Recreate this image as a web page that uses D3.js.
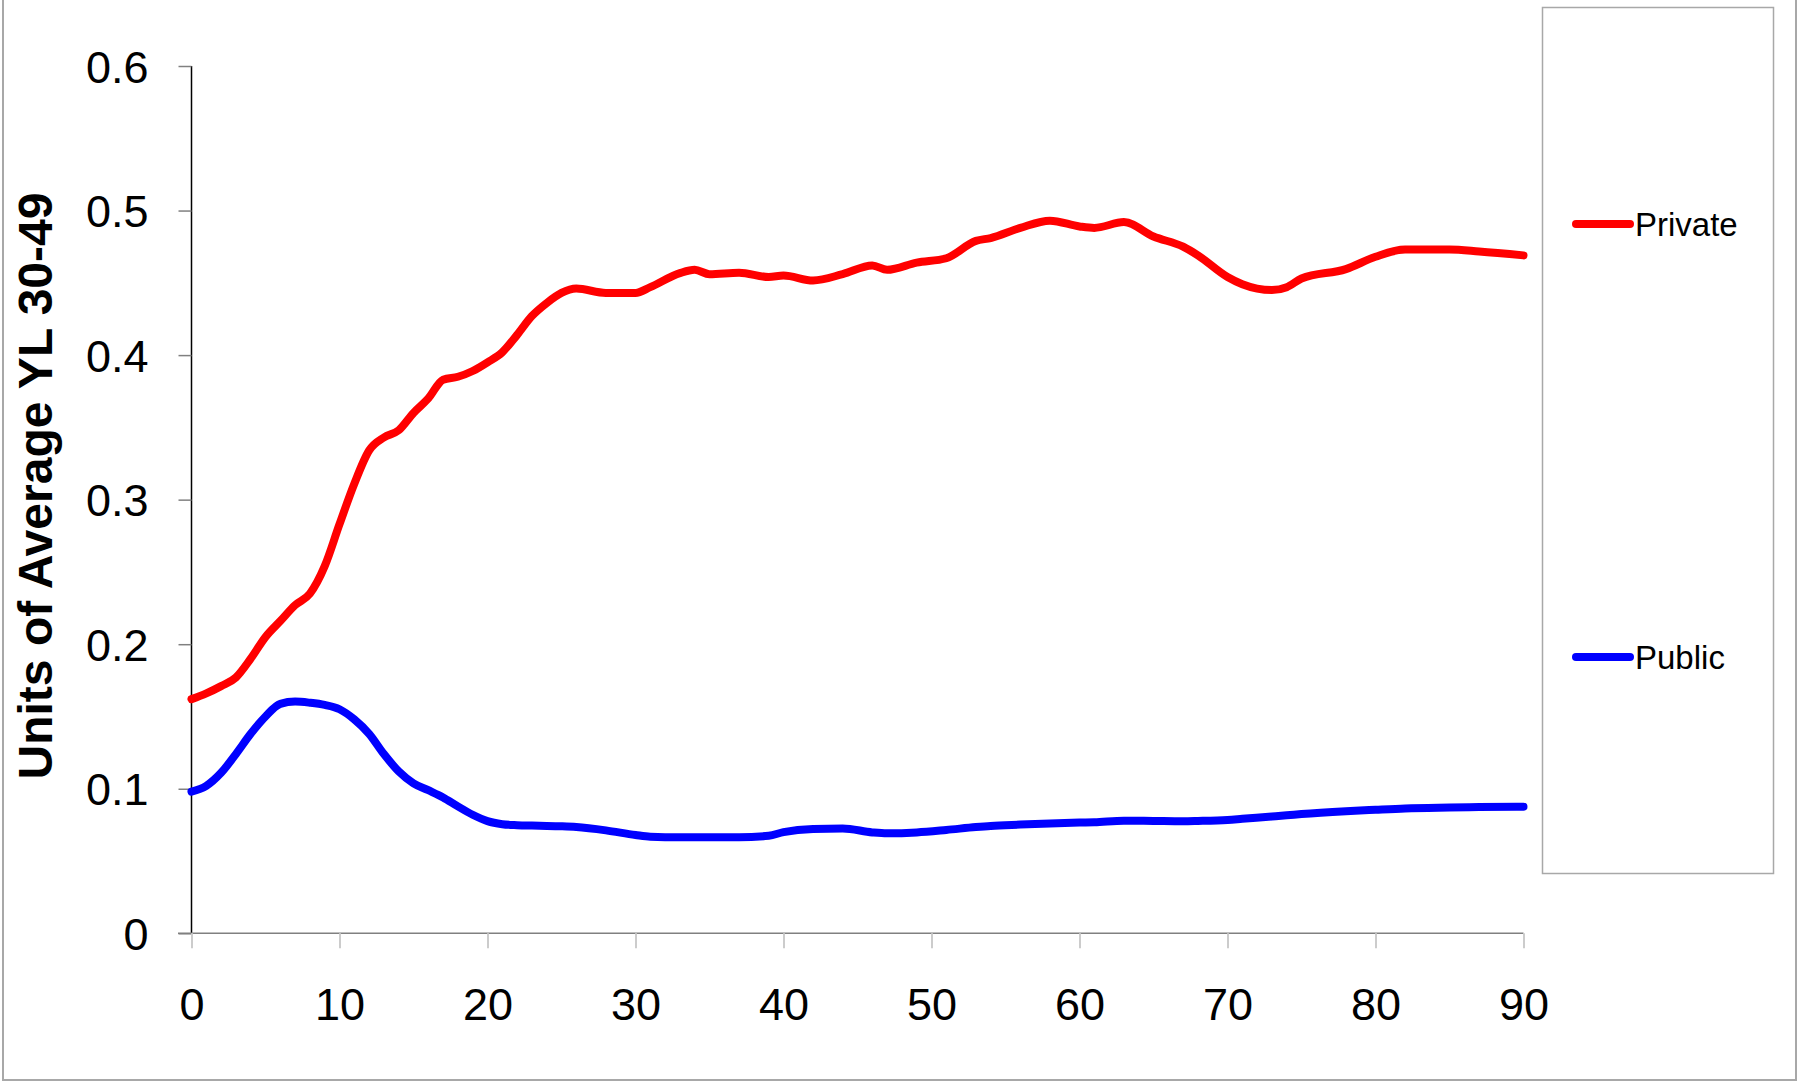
<!DOCTYPE html>
<html>
<head>
<meta charset="utf-8">
<script src="https://cdn.jsdelivr.net/npm/d3@7"></script>
<style>
  html, body { margin: 0; padding: 0; background: #fff; }
  svg { display: block; font-family: "Liberation Sans", Arial, sans-serif; }
</style>
</head>
<body>
<svg id="chart" width="1797" height="1084"></svg>
<script>
const ages = [0,1,2,3,4,5,6,7,8,9,10,11,12,13,14,15,16,17,18,19,20,21,22,23,24,25,26,28,30,31,33,34,35,37,39,40,42,44,46,47,49,51,53,54,56,58,60,61,63,65,67,68,70,71,73,74,75,78,80,82,85,87,90];

const privateValues = [0.162,0.166,0.171,0.177,0.190,0.205,0.216,0.227,0.235,0.254,0.283,0.311,0.334,0.343,0.348,0.360,0.370,0.383,0.385,0.389,0.395,0.402,0.414,0.427,0.436,0.443,0.446,0.443,0.443,0.447,0.4567,0.459,0.456,0.457,0.454,0.455,0.4516,0.456,0.462,0.459,0.464,0.467,0.479,0.481,0.488,0.493,0.489,0.488,0.492,0.482,0.475,0.469,0.454,0.449,0.445,0.447,0.453,0.4595,0.468,0.473,0.473,0.4717,0.469];

const publicValues = [0.098,0.102,0.111,0.124,0.138,0.150,0.1587,0.1603,0.1595,0.158,0.155,0.148,0.138,0.124,0.112,0.1038,0.099,0.094,0.0878,0.082,0.0776,0.0755,0.0748,0.0745,0.0743,0.0740,0.0735,0.0712,0.0680,0.0668,0.0664,0.0665,0.0665,0.0664,0.0675,0.0700,0.0722,0.0725,0.0698,0.0692,0.0698,0.0715,0.0735,0.0743,0.0752,0.0760,0.0766,0.0768,0.0779,0.0777,0.0775,0.0777,0.0784,0.0792,0.0808,0.0816,0.0825,0.0845,0.0855,0.0864,0.0870,0.0873,0.0876];

const seriesNames = ["Private", "Public"];
const seriesColors = ["#ff0000", "#0000ff"];
const xTicks = [0,10,20,30,40,50,60,70,80,90];
const yTicks = [0,0.1,0.2,0.3,0.4,0.5,0.6];
const yTitle = "Units of Average YL 30-49";

const svg = d3.select("#chart");
const W = 1797, H = 1084;

// outer chart border
svg.append("rect").attr("x", 3).attr("y", -2).attr("width", 1793).attr("height", 1082)
  .attr("fill", "none").attr("stroke", "#a8a8a8").attr("stroke-width", 2);

const x = d3.scaleLinear().domain([0, 90]).range([191.5, 1523.5]);
const y = d3.scaleLinear().domain([0, 0.6]).range([933.3, 66]);

// y axis
const yAxis = svg.append("g").attr("transform", "translate(191.5,0)")
  .call(d3.axisLeft(y).tickValues(yTicks).tickSize(13).tickFormat(d3.format("")));
yAxis.select(".domain").attr("stroke", "#000").attr("stroke-width", 1.5).attr("d", `M0,${y(0.6)}V${y(0)}`);
yAxis.selectAll(".tick line").attr("stroke", "#808080").attr("stroke-width", 1.5);
yAxis.selectAll(".tick text").attr("x", -43).attr("dy", null).attr("y", 16)
  .attr("font-size", 45).attr("fill", "#000").attr("font-family", "Liberation Sans, Arial, sans-serif");

// x axis
const xAxis = svg.append("g").attr("transform", `translate(0,${y(0)})`)
  .call(d3.axisBottom(x).tickValues(xTicks).tickSize(15).tickFormat(d3.format("d")));
xAxis.select(".domain").attr("stroke", "#808080").attr("stroke-width", 1.5).attr("d", `M178,0H${x(90)}`);
xAxis.selectAll(".tick line").attr("stroke", "#cccccc").attr("stroke-width", 2);
xAxis.selectAll(".tick text").attr("y", 87).attr("dy", null)
  .attr("font-size", 45).attr("fill", "#000").attr("font-family", "Liberation Sans, Arial, sans-serif");

// y title
svg.append("text").attr("transform", "translate(52,486) rotate(-90)")
  .attr("text-anchor", "middle").attr("font-size", 48).attr("font-weight", "bold")
  .attr("fill", "#000").text(yTitle);

// lines
const line = d3.line().x(d => x(d[0])).y(d => y(d[1])).curve(d3.curveMonotoneX);
const allSeries = [privateValues, publicValues];
allSeries.forEach((vals, i) => {
  svg.append("path").datum(ages.map((a, k) => [a, vals[k]]))
    .attr("d", line).attr("fill", "none").attr("stroke", seriesColors[i])
    .attr("stroke-width", 8).attr("stroke-linecap", "round").attr("stroke-linejoin", "round");
});

// legend
svg.append("rect").attr("x", 1542.5).attr("y", 7.5).attr("width", 1231).attr("height", 866)
  .attr("width", 231).attr("fill", "#fff").attr("stroke", "#a8a8a8").attr("stroke-width", 1.5);
const legendY = [224, 657];
seriesNames.forEach((name, i) => {
  svg.append("line").attr("x1", 1576).attr("x2", 1630).attr("y1", legendY[i]).attr("y2", legendY[i])
    .attr("stroke", seriesColors[i]).attr("stroke-width", 8).attr("stroke-linecap", "round");
  svg.append("text").attr("x", 1635).attr("y", legendY[i] + 12).attr("font-size", 33)
    .attr("fill", "#000").text(name);
});
</script>
</body>
</html>
